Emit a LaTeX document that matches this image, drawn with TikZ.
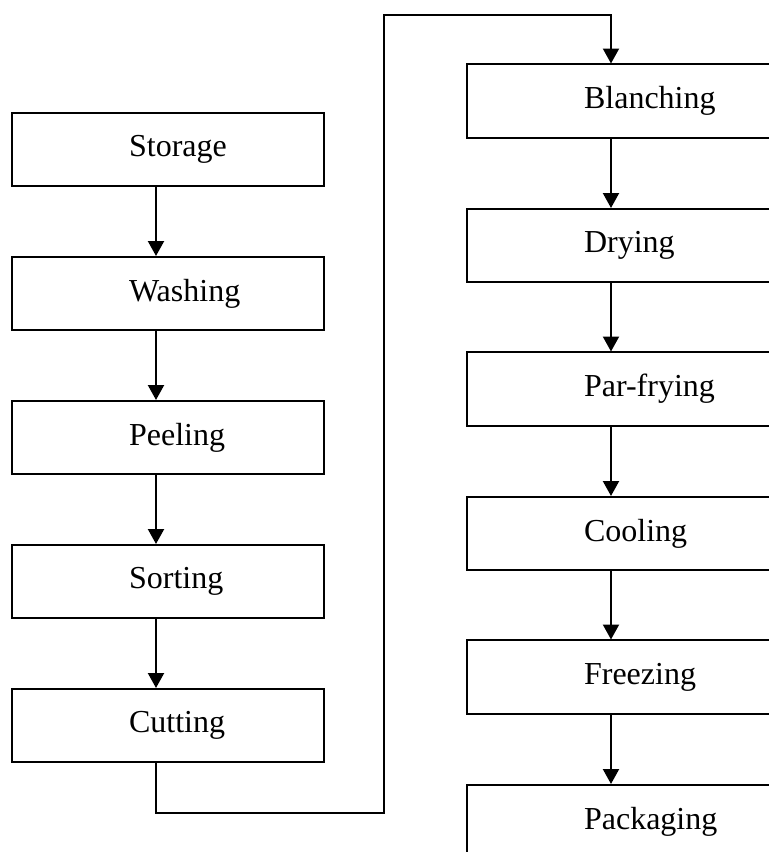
\documentclass[tikz,border=0pt]{standalone}
\usepackage{fontspec}
\setmainfont{Liberation Serif}
\usetikzlibrary{arrows.meta}

\begin{document}
\begin{tikzpicture}[x=0.375pt, y=-0.375pt,
    stepbox/.style={draw, line width=0.75pt, minimum height=27.4pt,
      text width=117pt, inner xsep=0pt, align=left,
      font=\fontsize{12}{14}\selectfont,
      execute at begin node=\hspace*{43.9pt}},
    flow/.style={line width=0.75pt, -{Triangle[length=5.6pt, width=6pt]}}]
  \useasboundingbox (0,0) rectangle (769,852);
  \clip (0,0) rectangle (769,852);
  % left column
  \node[stepbox] (storage) at (168,149.5) {Storage};
  \node[stepbox] (washing) at (168,293.5) {Washing};
  \node[stepbox] (peeling) at (168,437.5) {Peeling};
  \node[stepbox] (sorting) at (168,581.5) {Sorting};
  \node[stepbox] (cutting) at (168,725.5) {Cutting};
  % right column
  \node[stepbox] (blanching) at (623,101) {Blanching};
  \node[stepbox] (drying) at (623,245.5) {Drying};
  \node[stepbox] (parfrying) at (623,389) {Par-frying};
  \node[stepbox] (cooling) at (623,533.5) {Cooling};
  \node[stepbox] (freezing) at (623,677) {Freezing};
  \node[stepbox] (packaging) at (623,821.5) {Packaging};
  % arrows
  \foreach \a/\b in {storage/washing, washing/peeling, peeling/sorting,
      sorting/cutting, blanching/drying, drying/parfrying,
      parfrying/cooling, cooling/freezing, freezing/packaging}
    \draw[flow] ([xshift=-4.5pt]\a.south) -- ([xshift=-4.5pt]\b.north);
  \coordinate (low) at (384,813);
  \coordinate (high) at (384,15);
  \draw[flow] ([xshift=-4.5pt]cutting.south) |- (low) -- (high)
    -| ([xshift=-4.5pt]blanching.north);
\end{tikzpicture}
\end{document}
